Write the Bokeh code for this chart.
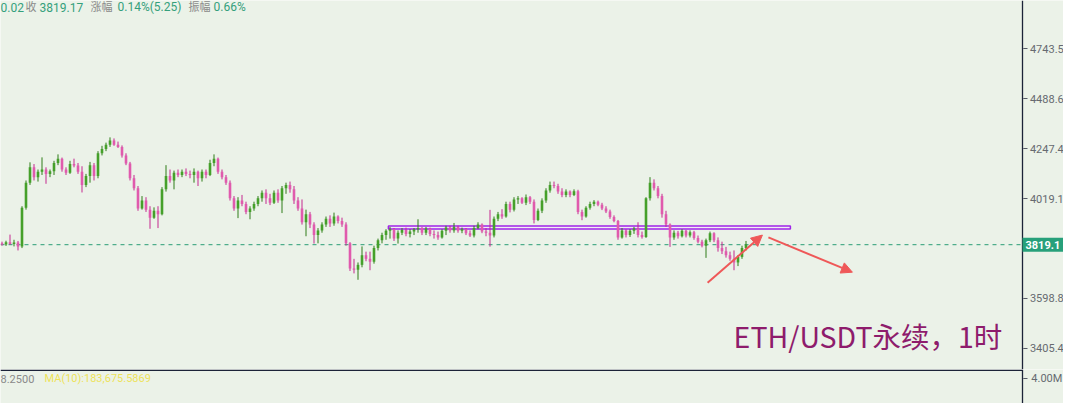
from bokeh.plotting import figure
from bokeh.models import (ColumnDataSource, Range1d, Span, Label, Arrow, NormalHead)
from bokeh.layouts import column
from bokeh.embed import file_html
from bokeh.resources import INLINE
from bokeh.core.properties import value

# ---------------- data (ETH/USDT perpetual, 1h candles) ----------------
opens = [3825, 3820, 3830, 3822, 3828, 3812, 3978, 4090, 4160, 4115,
         4140, 4150, 4130, 4142, 4180, 4200, 4150, 4135, 4175, 4168,
         4140, 4080, 4120, 4170, 4120, 4225, 4245, 4265, 4285, 4265,
         4255, 4215, 4178, 4110, 4065, 3975, 4010, 3970, 3935, 3965,
         3950, 4060, 4120, 4100, 4135, 4125, 4140, 4130, 4125, 4140,
         4110, 4140, 4125, 4180, 4200, 4140, 4115, 4090, 4020, 3975,
         4010, 3995, 3960, 3975, 3995, 4020, 4045, 4020, 4000, 4045,
         4010, 4065, 4080, 4060, 4010, 3975, 3915, 3950, 3905, 3860,
         3880, 3905, 3930, 3910, 3940, 3920, 3905, 3825, 3720, 3715,
         3735, 3775, 3760, 3748, 3805, 3838, 3860, 3878, 3885, 3845,
         3870, 3882, 3865, 3875, 3885, 3890, 3870, 3888, 3865, 3860,
         3850, 3878, 3892, 3880, 3895, 3878, 3885, 3868, 3858, 3890,
         3905, 3875, 3870, 3858, 3930, 3950, 3940, 3995, 3970, 4015,
         4020, 4000, 4025, 4005, 3925, 3965, 4010, 4055, 4080, 4075,
         4050, 4035, 4050, 4035, 4052, 3960, 3940, 3978, 3995, 4005,
         3992, 3975, 3962, 3938, 3920, 3850, 3880, 3860, 3878, 3888,
         3860, 3852, 4020, 4090, 4065, 4030, 3950, 3905, 3850, 3870,
         3855, 3878, 3858, 3872, 3848, 3832, 3815, 3838, 3868, 3838,
         3805, 3792, 3775, 3760, 3745, 3768, 3805]
highs = [3832, 3836, 3862, 3840, 3835, 3985, 4100, 4183, 4175, 4150,
         4206, 4160, 4150, 4190, 4220, 4205, 4160, 4190, 4200, 4180,
         4165, 4130, 4185, 4180, 4235, 4260, 4275, 4300, 4295, 4280,
         4262, 4225, 4185, 4125, 4075, 4030, 4025, 3985, 3980, 3985,
         4070, 4170, 4150, 4145, 4150, 4150, 4155, 4145, 4155, 4145,
         4150, 4150, 4195, 4220, 4205, 4150, 4125, 4100, 4030, 4025,
         4035, 4005, 3985, 4005, 4030, 4055, 4060, 4040, 4055, 4060,
         4075, 4090, 4095, 4075, 4025, 4015, 3970, 3960, 3915, 3890,
         3915, 3940, 3945, 3957, 3945, 3935, 3915, 3830, 3760, 3745,
         3812, 3790, 3790, 3815, 3845, 3870, 3885, 3895, 3890, 3880,
         3890, 3892, 3885, 3890, 3928, 3895, 3895, 3892, 3880, 3875,
         3885, 3900, 3900, 3912, 3900, 3892, 3890, 3880, 3900, 3915,
         3910, 3890, 3969, 3940, 3960, 3972, 4005, 4005, 4025, 4030,
         4025, 4037, 4030, 4015, 3975, 4020, 4065, 4095, 4095, 4085,
         4065, 4060, 4055, 4060, 4058, 3970, 3985, 4005, 4012, 4010,
         4000, 3985, 3970, 3945, 3925, 3890, 3885, 3885, 3895, 3915,
         3875, 4025, 4115, 4105, 4075, 4040, 3965, 3910, 3880, 3878,
         3885, 3882, 3880, 3878, 3858, 3840, 3845, 3875, 3872, 3850,
         3832, 3810, 3790, 3795, 3775, 3815, 3835]
lows = [3815, 3814, 3818, 3812, 3795, 3805, 3970, 4080, 4100, 4095,
        4125, 4085, 4115, 4125, 4170, 4140, 4125, 4130, 4160, 4130,
        4046, 4070, 4090, 4100, 4110, 4215, 4235, 4255, 4260, 4250,
        4205, 4170, 4100, 4055, 3965, 3970, 3960, 3887, 3930, 3890,
        3945, 4050, 4090, 4060, 4115, 4115, 4120, 4110, 4090, 4075,
        4095, 4110, 4120, 4165, 4130, 4105, 4080, 4010, 3965, 3933,
        3985, 3950, 3928, 3965, 3985, 4005, 3995, 3990, 3995, 4000,
        3955, 4040, 4045, 3995, 3965, 3905, 3855, 3890, 3824, 3825,
        3870, 3895, 3895, 3900, 3910, 3895, 3815, 3710, 3700, 3674,
        3725, 3750, 3713, 3740, 3795, 3825, 3840, 3845, 3835, 3824,
        3860, 3855, 3850, 3860, 3870, 3860, 3860, 3855, 3845, 3840,
        3845, 3860, 3870, 3870, 3870, 3868, 3860, 3852, 3850, 3885,
        3868, 3855, 3811, 3850, 3920, 3930, 3935, 3958, 3962, 3995,
        3995, 3990, 3995, 3910, 3920, 3955, 4000, 4045, 4065, 4040,
        4025, 4025, 4025, 4030, 3950, 3924, 3935, 3970, 3985, 3985,
        3968, 3955, 3930, 3915, 3840, 3845, 3850, 3852, 3865, 3850,
        3845, 3848, 4010, 4055, 4020, 3935, 3895, 3810, 3840, 3845,
        3850, 3850, 3850, 3840, 3825, 3808, 3764, 3830, 3830, 3790,
        3780, 3765, 3752, 3713, 3730, 3760, 3795]
closes = [3820, 3830, 3822, 3828, 3812, 3978, 4090, 4160, 4115, 4140,
          4150, 4130, 4142, 4180, 4200, 4150, 4135, 4175, 4168, 4140,
          4080, 4120, 4170, 4120, 4225, 4245, 4265, 4285, 4265, 4255,
          4215, 4178, 4110, 4065, 3975, 4010, 3970, 3935, 3965, 3950,
          4060, 4120, 4100, 4135, 4125, 4140, 4130, 4125, 4140, 4110,
          4140, 4125, 4180, 4200, 4140, 4115, 4090, 4020, 3975, 4010,
          3995, 3960, 3975, 3995, 4020, 4045, 4020, 4000, 4045, 4010,
          4065, 4080, 4060, 4010, 3975, 3915, 3950, 3905, 3860, 3880,
          3905, 3930, 3910, 3940, 3920, 3905, 3825, 3720, 3715, 3735,
          3775, 3760, 3748, 3805, 3838, 3860, 3878, 3885, 3845, 3870,
          3882, 3865, 3875, 3885, 3890, 3870, 3888, 3865, 3860, 3850,
          3878, 3892, 3880, 3895, 3878, 3885, 3868, 3858, 3890, 3905,
          3875, 3870, 3858, 3930, 3950, 3940, 3995, 3970, 4015, 4020,
          4000, 4025, 4005, 3925, 3965, 4010, 4055, 4080, 4075, 4050,
          4035, 4050, 4035, 4052, 3960, 3940, 3978, 3995, 4005, 3992,
          3975, 3962, 3938, 3920, 3850, 3880, 3860, 3878, 3888, 3860,
          3852, 4020, 4090, 4065, 4030, 3950, 3905, 3850, 3870, 3855,
          3878, 3858, 3872, 3848, 3832, 3815, 3838, 3868, 3838, 3805,
          3792, 3775, 3760, 3745, 3768, 3805, 3819.17]

price_ticks = [3405.4, 3598.8, 4019.1, 4247.4, 4488.6, 4743.5]
price_tick_labels = ["3405.4", "3598.8", "4019.1", "4247.4", "4488.6", "4743.5"]
volume_ticks = [4000000]
volume_tick_labels = ["4.00M"]
last_price = 3819.17
last_price_text = "3819.1"
zone_prices = [3886, 3899]          # purple resistance band
info_texts = ["0.02", "收", "3819.17", "涨幅", "0.14%(5.25)", "振幅", "0.66%"]
vol_texts = ["8.2500", "MA(10):183,675.5869"]
title_text = "ETH/USDT永续，1时"

# ---------------- styles ----------------
BG = "#ebf2e8"
UP_BODY, UP_WICK = "#45a02a", "#2f7d18"
DN_BODY, DN_WICK = "#e05aad", "#c4288f"
GREEN_TXT = "#35a07c"
GREY_TXT = "#8a8a8a"
AXIS_LINE = "#1c2338"
AXIS_TXT = "#666a70"
TICK_C = "#555a66"
RED = "#ef5858"
PURPLE = "#a024e8"
MIXED_FONT = "Roboto, 'Noto Sans CJK SC'"

# x is the candle index; 4 px per candle in a 1063 px wide frame
X0 = -0.375
X1 = X0 + 1063 / 4
AX = 255.125            # price-axis line position (index units)

n = len(closes)
xs = list(range(n))
up = [c >= o for o, c in zip(opens, closes)]
src = ColumnDataSource(dict(
    x=xs, open=opens, high=highs, low=lows, close=closes,
    top=[max(o, c) for o, c in zip(opens, closes)],
    bottom=[min(o, c) for o, c in zip(opens, closes)],
    body=[UP_BODY if u else DN_BODY for u in up],
    wick=[UP_WICK if u else DN_WICK for u in up],
))

p = figure(frame_width=1063, frame_height=369,
           x_range=Range1d(X0, X1), y_range=Range1d(3327.3, 5001.9),
           y_axis_type="log", x_axis_location=None, y_axis_location=None,
           output_backend="svg", toolbar_location=None,
           min_border_left=0, min_border_top=0, min_border_bottom=0, min_border_right=0,
           background_fill_color=BG, border_fill_color=BG, outline_line_color=None)
p.grid.visible = False

# current price dashed line
p.segment(x0=[X0], x1=[AX], y0=[last_price], y1=[last_price], line_color="#2a9d75",
          line_dash="4 4", line_width=1)

# resistance band
p.quad(left=[96.6], right=[197.1], bottom=[zone_prices[0]], top=[zone_prices[1]],
       fill_color="#f3e9fb", fill_alpha=0.6, line_color=PURPLE, line_width=1.5)

# candles
p.segment(x0="x", y0="low", x1="x", y1="high", line_color="wick", line_width=1, source=src)
p.vbar(x="x", width=0.65, top="top", bottom="bottom", fill_color="body",
       line_color=None, source=src)

# arrows
p.add_layout(Arrow(end=NormalHead(size=11, fill_color=RED, line_color=RED, line_width=1),
                   x_start=176.4, y_start=3662, x_end=190.1, y_end=3860,
                   line_color=RED, line_width=2))
p.add_layout(Arrow(end=NormalHead(size=11, fill_color=RED, line_color=RED, line_width=1),
                   x_start=191.6, y_start=3850, x_end=212.6, y_end=3705,
                   line_color=RED, line_width=2))

# price axis (drawn by hand so the price tag can sit on it)
p.add_layout(Span(location=AX, dimension="height", line_color=AXIS_LINE, line_width=1.3))
p.segment(x0=[AX + 0.2] * len(price_ticks), x1=[AX + 1.25] * len(price_ticks),
          y0=price_ticks, y1=price_ticks, line_color=TICK_C, line_width=1)
p.text(x=[AX + 1.85] * len(price_ticks), y=price_ticks, text=price_tick_labels,
       text_color=AXIS_TXT, text_font=value("Roboto"), text_font_size="11px",
       text_baseline="middle", text_align="left")

# top info line
info_x = [-0.375, 5.875, 9.4, 22.125, 28.875, 46.625, 52.875]
info_c = [GREEN_TXT, GREY_TXT, GREEN_TXT, GREY_TXT, GREEN_TXT, GREY_TXT, GREEN_TXT]
info_s = ["12px", "11px", "12px", "11px", "12px", "11px", "12px"]
for t, xx, cc, ss in zip(info_texts, info_x, info_c, info_s):
    p.add_layout(Label(x=xx, y=4966, text=t, text_color=cc, text_font_size=ss,
                       text_font=MIXED_FONT,
                       text_baseline="middle", text_align="left"))

# title annotation
p.add_layout(Label(x=182.9, y=3455, text=title_text, text_color="#8e1c6c",
                   text_font_size="28.5px", text_font="Noto Sans CJK SC",
                   text_baseline="middle", text_align="left"))

# current price tag on axis
p.add_layout(Label(x=AX, y=last_price, text=last_price_text, text_color="white",
                   text_font_style="bold", text_font_size="11px",
                   text_font="Roboto", text_baseline="middle", text_align="left",
                   background_fill_color="#27a07a", padding=3))

# ---------------- volume pane ----------------
VT = 5.44e6
v = figure(frame_width=1063, frame_height=34, x_range=p.x_range, y_range=Range1d(0, VT),
           x_axis_location=None, y_axis_location=None,
           output_backend="svg", toolbar_location=None,
           min_border_left=0, min_border_top=0, min_border_bottom=0, min_border_right=0,
           background_fill_color=BG, border_fill_color=BG, outline_line_color=None)
v.grid.visible = False
v.add_layout(Span(location=AX, dimension="height", line_color=AXIS_LINE, line_width=1.3))
v.segment(x0=[X0], x1=[AX], y0=[VT * (1 - 0.8 / 34)], y1=[VT * (1 - 0.8 / 34)],
          line_color=AXIS_LINE, line_width=1.4)
v.segment(x0=[AX + 0.2] * len(volume_ticks), x1=[AX + 1.25] * len(volume_ticks),
          y0=volume_ticks, y1=volume_ticks, line_color=TICK_C, line_width=1)
v.text(x=[AX + 2.2] * len(volume_ticks), y=volume_ticks, text=volume_tick_labels,
       text_color=AXIS_TXT, text_font=value("Roboto"), text_font_size="11px",
       text_baseline="middle", text_align="left")
v.add_layout(Label(x=-0.375, y=4.0e6, text=vol_texts[0], text_color=GREY_TXT,
                   text_font_size="11px", text_font="Roboto",
                   text_baseline="middle", text_align="left"))
v.add_layout(Label(x=10.625, y=4.0e6, text=vol_texts[1], text_color="#eee35a",
                   text_font_size="11px", text_font="Roboto",
                   text_baseline="middle", text_align="left"))

layout = column(p, v, spacing=0)
open("out.html", "w").write(file_html(layout, INLINE))
